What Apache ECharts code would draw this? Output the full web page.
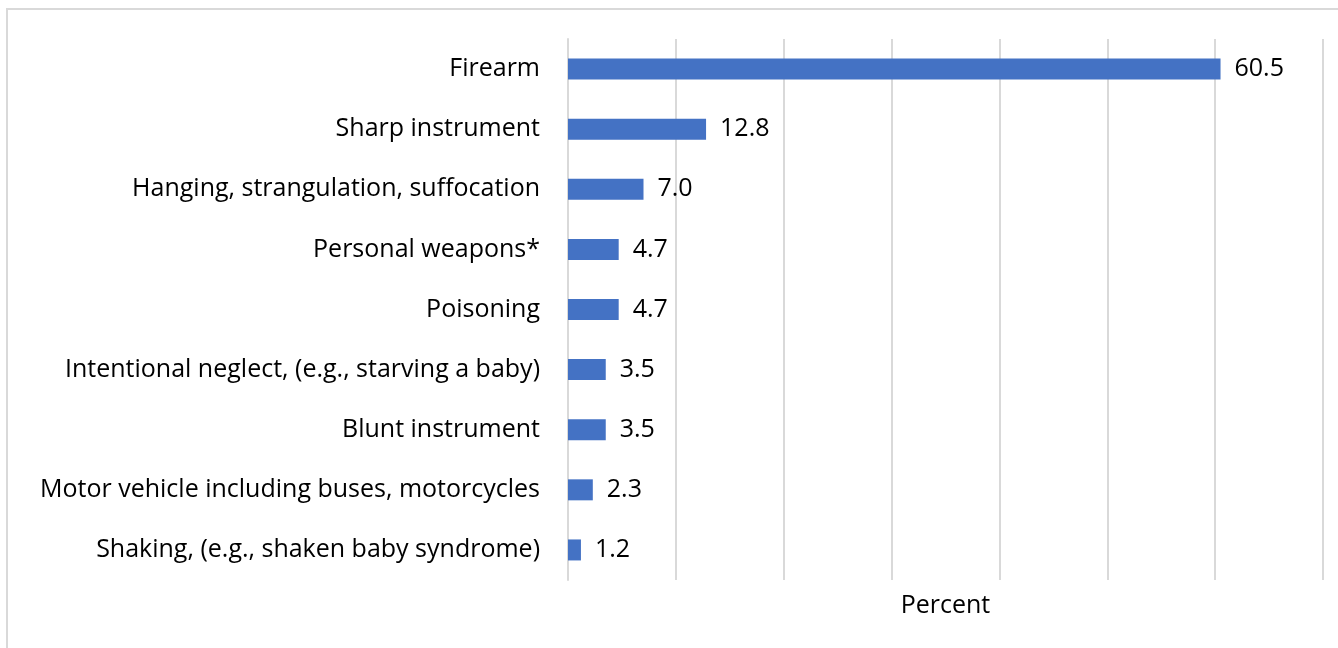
<!DOCTYPE html>
<html>
<head>
<meta charset="utf-8">
<script src="https://cdn.jsdelivr.net/npm/echarts@6/dist/echarts.min.js"></script>
<style>
    html, body { margin: 0; padding: 0; background: #fff; }
    #chart { width: 1338px; height: 648px; }
</style>
</head>
<body>
<div id="chart"></div>
<script>
    // categories, top to bottom as in the picture
    var causes = [
        'Firearm',
        'Sharp instrument',
        'Hanging, strangulation, suffocation',
        'Personal weapons*',
        'Poisoning',
        'Intentional neglect, (e.g., starving a baby)',
        'Blunt instrument',
        'Motor vehicle including buses, motorcycles',
        'Shaking, (e.g., shaken baby syndrome)'
    ];
    var percents = [60.5, 12.8, 7.0, 4.7, 4.7, 3.5, 3.5, 2.3, 1.2];
    var axisName = 'Percent';

    var font = 'Open Sans';
    var fs = 25;

    var myChart = echarts.init(document.getElementById('chart'));
    myChart.setOption({
        animation: false,
        textStyle: { fontFamily: font },
        graphic: [{
            type: 'rect',
            shape: { x: 7, y: 9, width: 1400, height: 700 },
            style: { fill: 'none', stroke: '#d9d9d9', lineWidth: 2 },
            silent: true
        }],
        grid: { left: 568, right: 15, top: 39, bottom: 68 },
        xAxis: {
            type: 'value',
            min: 0,
            max: 70,
            interval: 10,
            name: axisName,
            nameLocation: 'middle',
            nameGap: 13,
            nameTextStyle: { fontSize: fs, color: '#000', verticalAlign: 'top', fontFamily: font },
            axisLabel: { show: false },
            axisTick: { show: false },
            axisLine: { show: false },
            splitLine: { lineStyle: { color: '#d9d9d9', width: 2 } }
        },
        yAxis: {
            type: 'category',
            inverse: true,
            data: causes,
            axisTick: { show: false },
            axisLine: { lineStyle: { color: '#d9d9d9', width: 2 } },
            axisLabel: { fontSize: fs, color: '#000', margin: 28, fontFamily: font, padding: [5, 0, 0, 0] }
        },
        series: [{
            type: 'bar',
            data: percents,
            barWidth: 21,
            itemStyle: { color: '#4472C4' },
            label: {
                show: true,
                position: 'right',
                distance: 14,
                fontSize: fs,
                color: '#000',
                fontFamily: font,
                padding: [5, 0, 0, 0],
                formatter: function (p) { return p.value.toFixed(1); }
            }
        }]
    });
</script>
</body>
</html>
